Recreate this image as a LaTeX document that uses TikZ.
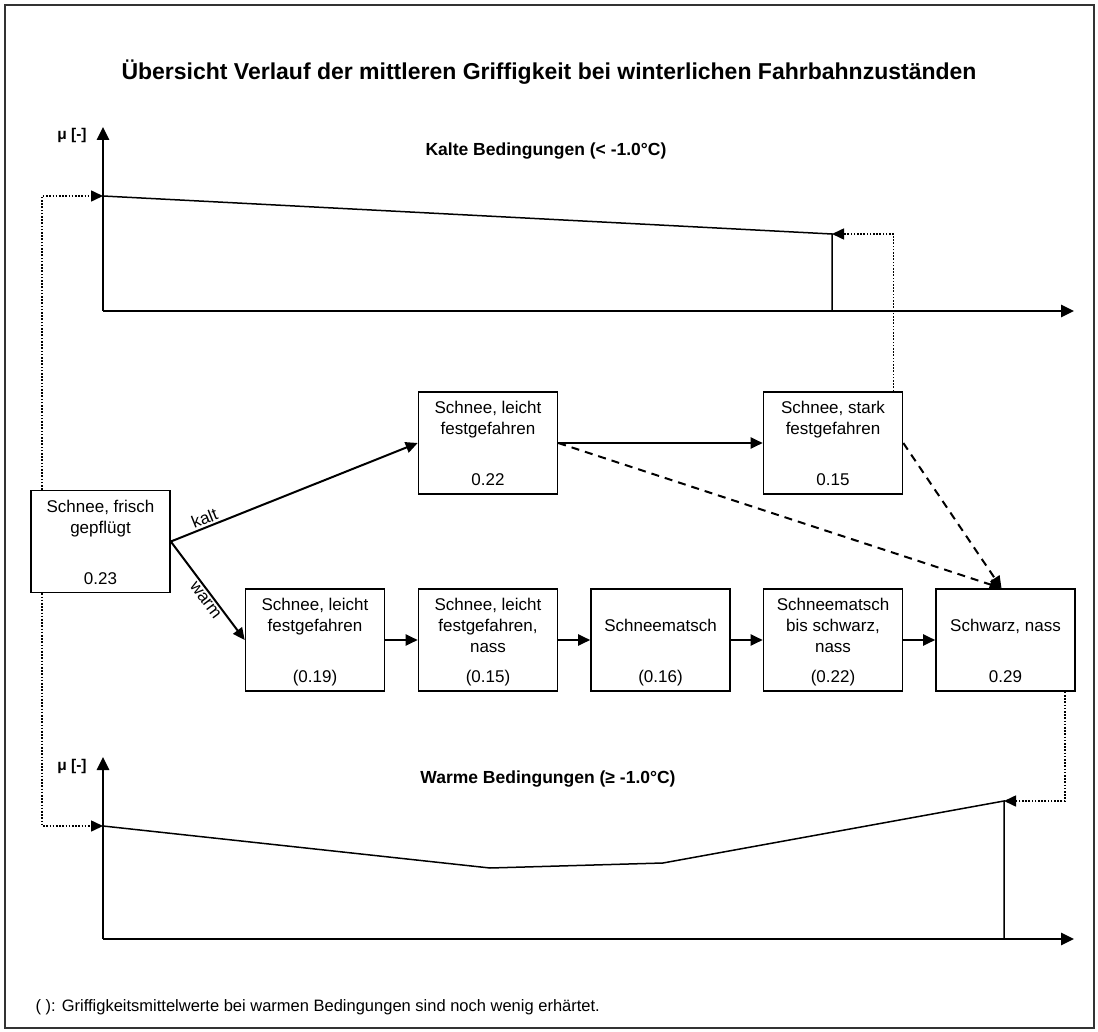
\documentclass[tikz,border=0pt]{standalone}
\usepackage{fontspec}
\setmainfont{Liberation Sans}
\usetikzlibrary{arrows.meta,positioning,calc}
\tikzset{
  zbox/.style={draw, line width=1.6pt, fill=white, minimum width=139pt, minimum height=102pt, inner sep=0pt},
  ztext/.style={anchor=north, align=center, inner sep=0pt, yshift=-10pt, font=\fontsize{17}{21}\selectfont},
  zwert/.style={anchor=base, inner sep=0pt, yshift=9pt, font=\fontsize{17}{21}\selectfont},
  uebergang/.style={-{Triangle[length=12pt,width=11pt]}, line width=2pt},
  moeglich/.style={uebergang, dash pattern=on 8pt off 6pt},
  achse/.style={-{Triangle[length=13pt,width=12pt]}, line width=2.6pt},
  verlauf/.style={line width=1.5pt},
  bezug/.style={-{Triangle[length=12pt,width=11pt]}, line width=1.6pt, dash pattern=on 1.6pt off 1.6pt},
  titel/.style={font=\bfseries\fontsize{23}{27}\selectfont},
  fett/.style={font=\bfseries\fontsize{17.5}{21}\selectfont},
  pfeiltext/.style={font=\fontsize{17}{21}\selectfont, inner sep=2pt},
}
\begin{document}
\begin{tikzpicture}[x=1pt,y=-1pt]
    \useasboundingbox (0,0) rectangle (1098,1032);
    \draw[line width=1.6pt, black!80] (5,5) rectangle (1094,1028);
    \node[titel] (ueber) at (549,72) {Übersicht Verlauf der mittleren Griffigkeit bei winterlichen Fahrbahnzuständen};

    % kalte Bedingungen
    \coordinate (k0) at (103,311);
    \coordinate (kstart) at (103,196);
    \coordinate (kend) at (832,234);
    \draw[achse] (k0) -- (103,127);
    \draw[achse] (k0) -- (1074,311);
    \draw[verlauf] (kstart) -- (kend) -- (kend |- k0);
    \node[font=\bfseries\fontsize{15.5}{19}\selectfont] (kmu) at (72,135) {μ [-]};
    \node[fett] (kbed) at (546,151) {Kalte Bedingungen (< -1.0°C)};

    % warme Bedingungen
    \coordinate (w0) at (103,939);
    \coordinate (wstart) at (103,826);
    \coordinate (wend) at (1004,801);
    \draw[achse] (w0) -- (103,757);
    \draw[achse] (w0) -- (1074,939);
    \draw[verlauf] (wstart) -- (490,868) -- (663,863) -- (wend) -- (wend |- w0);
    \node[font=\bfseries\fontsize{15.5}{19}\selectfont] (wmu) at (72,766) {μ [-]};
    \node[fett] (wbed) at (548,779) {Warme Bedingungen (≥ -1.0°C)};

    % Zustaende
    \node[zbox, label={[ztext]north:Schnee, frisch\\gepflügt}, label={[zwert]south:0.23}] (frisch) at (100.5,541.5) {};
    \node[zbox, label={[ztext]north:Schnee, leicht\\festgefahren}, label={[zwert]south:0.22}] (kleicht) at (488,443) {};
    \node[zbox, label={[ztext]north:Schnee, stark\\festgefahren}, label={[zwert]south:0.15}] (kstark) at (833,443) {};
    \node[zbox, label={[ztext]north:Schnee, leicht\\festgefahren}, label={[zwert]south:(0.19)}] (z1) at (315,640) {};
    \node[zbox, label={[ztext]north:Schnee, leicht\\festgefahren,\\nass}, label={[zwert]south:(0.15)}] (z2) at (488,640) {};
    \node[zbox, label={[ztext, yshift=-21pt]north:Schneematsch}, label={[zwert]south:(0.16)}] (z3) at (660.5,640) {};
    \node[zbox, label={[ztext]north:Schneematsch\\bis schwarz,\\nass}, label={[zwert]south:(0.22)}] (z4) at (833,640) {};
    \node[zbox, label={[ztext, yshift=-21pt]north:Schwarz, nass}, label={[zwert]south:0.29}] (z5) at (1005.5,640) {};

    % Uebergaenge
    \draw[uebergang] (frisch.east) -- node[sloped, above, pos=0.15, pfeiltext] {kalt} (kleicht.west);
    \draw[uebergang] (frisch.east) -- node[sloped, below, pos=0.55, pfeiltext] {warm} (z1.west);
    \draw[uebergang] (kleicht) -- (kstark);
    \foreach \a/\b in {z1/z2, z2/z3, z3/z4, z4/z5}
        \draw[uebergang] (\a) -- (\b);
    \coordinate (nass) at ($(z5.north)+(-4,0)$);
    \draw[moeglich] (kleicht.east) -- (nass);
    \draw[moeglich] (kstark.east) -- (nass);

    % Bezug zu den Diagrammen
    \draw[bezug] ($(frisch.north west)+(12,0)$) |- (kstart);
    \draw[bezug] ($(frisch.south west)+(12,0)$) |- (wstart);
    \draw[bezug] ($(kstark.north east)+(-10,0)$) |- (kend);
    \draw[bezug] ($(z5.south east)+(-11,0)$) |- (wend);

    \node[anchor=west, font=\fontsize{16.5}{20}\selectfont] (fussnote) at (32,1007) {( ): Griffigkeitsmittelwerte bei warmen Bedingungen sind noch wenig erhärtet.};
\end{tikzpicture}
\end{document}
